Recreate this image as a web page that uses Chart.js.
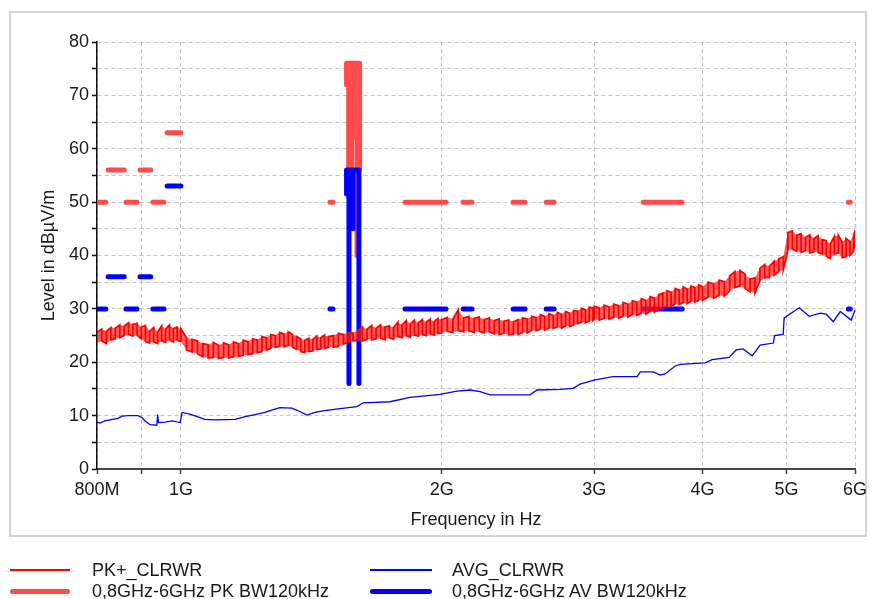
<!DOCTYPE html>
<html><head><meta charset="utf-8">
<script src="https://cdn.jsdelivr.net/npm/chart.js@4.4.0/dist/chart.umd.min.js"></script>
<style>
html,body{margin:0;padding:0;background:#fff;}
#wrap{position:relative;width:876px;height:599px;overflow:hidden;font-family:"Liberation Sans",Arial,sans-serif;}
#frame{position:absolute;left:9px;top:11px;width:858px;height:526px;box-sizing:border-box;border:2px solid #d4d4d4;}
#c{position:absolute;left:0;top:0;}
.lg{position:absolute;font-size:18px;color:#1a1a1a;line-height:20px;white-space:pre;}
.sw{position:absolute;}
</style></head><body>
<div id="wrap">
<div id="frame"></div>
<canvas id="c" width="876" height="599"></canvas>
<div class="sw" style="left:10px;top:569px;width:60px;height:1.5px;background:#ff0000"></div>
<div class="lg" style="left:92px;top:560px">PK+_CLRWR</div>
<div class="sw" style="left:10px;top:588.5px;width:60px;height:5px;border-radius:2.5px;background:#ff4a4a"></div>
<div class="lg" style="left:92px;top:581px">0,8GHz-6GHz PK BW120kHz</div>
<div class="sw" style="left:370px;top:569px;width:62px;height:1.5px;background:#0000ff"></div>
<div class="lg" style="left:452px;top:560px">AVG_CLRWR</div>
<div class="sw" style="left:370px;top:588.5px;width:62px;height:5px;border-radius:2.5px;background:#0000ff"></div>
<div class="lg" style="left:452px;top:581px">0,8GHz-6GHz AV BW120kHz</div>
</div>
<script>
// ---- axis ticks ----
const xTickValues = [800, 900, 1000, 2000, 3000, 4000, 5000, 6000];
const xTickLabels = ['800M', '', '1G', '2G', '3G', '4G', '5G', '6G'];

// ---- PK+_CLRWR trace: frequency (MHz), max and min level per column (dBµV/m) ----
const pkFreq = [800,810,820,830,840,850,860,870,880,890,900,910,920,930,940,950,960,970,980,990,
1000,1015,1030,1045,1060,1075,1090,1105,1120,1135,1150,1165,1180,1195,1210,1225,1240,1255,1270,1285,1300,1315,1330,1345,1360,1375,1390,1405,1420,1435,1450,1465,1480,
1500,1520,1540,1560,1580,1600,1620,1640,1660,1680,1700,1720,1740,1760,1780,1800,1820,1840,1860,1880,1900,1920,1940,1960,1980,
2000,2030,2060,2090,2120,2150,2180,2210,2240,2270,2300,2330,2360,2390,2420,2450,2480,2510,2540,2570,2600,2630,2660,2690,2720,2750,2780,2810,2840,2870,2900,2930,2960,2990,
3000,3040,3080,3120,3160,3200,3240,3280,3320,3360,3400,3440,3480,3520,3560,3600,3640,3680,3720,3760,3800,3840,3880,3920,3960,
4000,4060,4120,4180,4240,4300,4360,4420,4480,4540,4600,4660,4720,4780,4840,4900,4960,5020,5080,5140,5200,5260,5320,5380,5440,5500,5560,5620,5680,5740,5800,5860,5920,5980,6000];
const pkHigh = [25.6,26.2,25.8,26.5,26.4,27.0,26.8,27.4,27.1,27.3,26.6,26.9,25.8,26.5,25.7,26.8,26.2,27.0,26.3,26.6,
26.3,24.6,24.3,24.0,23.5,23.3,23.7,23.2,23.6,23.3,23.8,23.5,24.1,23.9,24.4,24.2,24.8,24.6,25.2,25.0,25.6,25.3,25.7,25.2,24.8,24.4,24.1,24.5,24.3,24.9,24.6,25.1,24.8,
25.0,25.4,25.2,25.6,25.5,26.0,26.6,26.2,26.9,26.4,27.0,26.6,26.8,26.5,27.5,27.0,27.8,27.2,27.9,27.4,28.0,27.5,28.1,27.6,28.2,
28.0,28.4,28.1,29.8,28.3,28.6,28.2,28.5,28.0,28.3,27.8,28.1,27.7,27.9,27.6,28.0,28.3,28.1,28.6,28.4,28.9,28.6,29.1,28.8,29.3,29.0,29.5,29.2,29.7,29.6,30.1,29.8,30.3,30.2,
30.5,30.2,30.7,30.4,30.9,30.6,31.2,30.9,31.5,31.3,31.9,31.6,32.3,32.0,32.7,33.0,33.4,33.1,33.8,33.5,34.1,33.7,34.3,34.0,34.5,
34.2,35.0,34.7,35.4,35.1,36.2,37.0,37.2,36.5,35.6,35.8,37.6,38.3,38.0,38.9,39.4,39.8,44.3,44.6,43.8,44.1,43.4,43.9,43.2,43.7,43.0,42.8,42.2,43.6,43.8,42.5,43.2,42.6,44.0,44.6];
const pkLow = [23.6,24.0,23.5,24.2,24.4,24.6,25.0,25.2,24.9,25.1,24.4,23.9,23.6,23.8,23.5,24.0,23.7,24.2,23.8,24.1,
23.9,22.3,21.9,21.6,21.0,20.8,20.9,20.7,20.9,20.8,21.0,21.1,21.3,21.4,21.6,21.8,22.0,22.3,22.6,22.8,23.0,22.9,23.1,22.8,22.4,22.0,21.8,22.0,22.1,22.4,22.5,22.6,22.8,
22.8,23.0,23.4,23.8,24.0,24.1,24.0,24.3,24.2,24.4,24.5,24.2,24.6,24.3,24.8,24.6,25.0,24.7,25.1,24.9,25.2,25.0,25.3,25.1,25.4,
25.5,25.8,25.6,25.9,25.7,25.9,25.6,25.8,25.5,25.7,25.3,25.2,25.4,25.1,25.3,25.2,25.6,25.5,26.0,25.9,26.2,26.0,26.4,26.3,26.6,26.4,26.8,26.7,27.0,27.2,27.5,27.4,27.7,27.8,
28.0,27.9,28.2,28.1,28.4,28.3,28.6,28.5,28.9,28.8,29.2,29.0,29.5,29.4,29.8,30.2,30.5,30.4,30.9,30.8,31.2,31.0,31.4,31.3,31.6,
31.6,32.2,32.0,32.5,32.4,33.4,34.0,34.3,33.8,33.2,33.0,35.2,35.8,35.9,36.3,37.0,37.4,41.0,41.2,40.8,40.6,40.9,40.5,40.7,40.6,40.3,39.8,39.4,40.3,40.5,39.6,39.8,40.0,40.8,41.5];

// ---- AVG_CLRWR trace ----
const avgFreq = [800,806,817,828,846,855,869,892,902,909,921,938,940,942,959,977,998,1003,1024,1044,1066,1095,1155,1186,1218,1250,1284,1301,1343,1362,1398,1428,1459,1526,1597,1623,1743,1838,1991,2083,2157,2215,2274,2399,2530,2577,2740,2836,2889,3007,3154,3363,3390,3509,3575,3622,3720,3770,4028,4104,4294,4375,4457,4565,4663,4830,4845,4957,4970,5173,5312,5470,5558,5663,5769,5940,6000];
const avgLevel = [8.8,8.6,9.0,9.2,9.5,9.9,10.0,10.0,9.6,9.0,8.3,8.2,10.2,8.7,8.8,9.0,8.7,10.6,10.3,9.8,9.3,9.2,9.3,9.8,10.2,10.6,11.2,11.5,11.4,11.0,10.1,10.6,10.9,11.3,11.7,12.4,12.6,13.4,14.0,14.6,14.8,14.5,13.9,13.9,13.9,14.8,14.9,15.1,15.9,16.7,17.3,17.3,18.2,18.2,17.6,17.8,19.3,19.6,19.9,20.5,20.9,22.3,22.5,21.2,23.2,23.6,25.0,25.2,28.3,30.2,28.6,29.2,29.0,27.6,29.5,27.9,29.8];

// ---- limit lines: [start MHz, end MHz, level] ----
const pkLimitSegments = [[800,819,50],[824,860,56],[864,890,50],[897,923,56],[928,956,50],[964,1000,63],
  [1486,1498,50],[1814,2023,50],[2117,2168,50],[2418,2496,50],[2640,2697,50],[3417,3790,50],[5894,5925,50]];
const avLimitSegments = [[800,819,30],[824,860,36],[864,890,30],[897,923,36],[928,956,30],[964,1000,53],
  [1486,1498,30],[1814,2023,30],[2117,2168,30],[2418,2496,30],[2640,2697,30],[3417,3790,30],[5894,5925,30]];
// notch polylines around the GNSS band: lists of [MHz, level]
const pkLimitNotch = [[[1553,76],[1608,76]],[[1553,76],[1553,72],[1562,72],[1562,51]],[[1574,76],[1574,56]],
  [[1586,76],[1586,62],[1597,62],[1597,40]],[[1608,76],[1608,56]]];
const avLimitNotch = [[[1553,56],[1605,56]],[[1553,56],[1553,51.5]],[[1563,56],[1563,16]],[[1580,56],[1580,45]],[[1605,56],[1605,16]]];

// ---- build datasets ----
function pkPath() {
  const out = [];
  for (let i = 0; i < pkFreq.length; i++) {
    if (i % 2 === 0) { out.push({x: pkFreq[i], y: pkLow[i]}, {x: pkFreq[i], y: pkHigh[i]}); }
    else { out.push({x: pkFreq[i], y: pkHigh[i]}, {x: pkFreq[i], y: pkLow[i]}); }
  }
  return out;
}
function segData(list) {
  const out = [];
  list.forEach(([a, b, l]) => { out.push({x: a, y: l}, {x: b, y: l}, {x: b, y: null}); });
  return out;
}
function polyData(list) {
  const out = [];
  list.forEach(p => { p.forEach(([f, v]) => out.push({x: f, y: v})); out.push({x: p[p.length - 1][0], y: null}); });
  return out;
}
const FONT = "'Liberation Sans', Arial, sans-serif";
const limStyle = (c) => ({borderColor: c, borderWidth: 5, borderCapStyle: 'round', borderJoinStyle: 'round', pointRadius: 0, spanGaps: false, fill: false});

new Chart(document.getElementById('c'), {
  type: 'line',
  data: {
    datasets: [
      {label: 'PK+_CLRWR', data: pkPath(), borderColor: '#ff0000', borderWidth: 1.7, pointRadius: 0, fill: false},
      {label: 'PK band top', data: pkFreq.map((f, i) => ({x: f, y: pkHigh[i]})), borderWidth: 0, borderColor: 'rgba(0,0,0,0)', pointRadius: 0,
        fill: '+1', backgroundColor: 'rgba(255,30,30,0.72)'},
      {label: 'PK band bottom', data: pkFreq.map((f, i) => ({x: f, y: pkLow[i]})), borderWidth: 0, borderColor: 'rgba(0,0,0,0)', pointRadius: 0, fill: false},
      {label: 'AVG_CLRWR', data: avgFreq.map((f, i) => ({x: f, y: avgLevel[i]})), borderColor: '#0000ff', borderWidth: 1.3, pointRadius: 0, fill: false},
      Object.assign({label: 'AV limit', data: segData(avLimitSegments)}, limStyle('#0000ff')),
      Object.assign({label: 'AV notch', data: polyData(avLimitNotch)}, limStyle('#0000ff')),
      Object.assign({label: 'PK limit', data: segData(pkLimitSegments)}, limStyle('#ff4a4a')),
      Object.assign({label: 'PK notch', data: polyData(pkLimitNotch)}, limStyle('#ff4a4a'))
    ]
  },
  options: {
    responsive: false, animation: false, devicePixelRatio: 1,
    layout: {padding: {left: 10, right: 21, top: 42, bottom: 64}},
    plugins: {legend: {display: false}, tooltip: {enabled: false}, filler: {propagate: false}},
    elements: {line: {tension: 0}, point: {radius: 0}},
    scales: {
      x: {
        type: 'logarithmic', min: 800, max: 6000, position: 'bottom',
        afterBuildTicks: (s) => { s.ticks = xTickValues.map(v => ({value: v})); },
        afterFit: (s) => { s.height = 66; },
        ticks: {autoSkip: false, maxRotation: 0, minRotation: 0, padding: 5, color: '#1a1a1a',
          font: {family: FONT, size: 18}, callback: (v, i) => xTickLabels[i]},
        grid: {color: '#c4c4c4', lineWidth: 1, tickLength: 5, tickColor: '#444', tickWidth: 1.5},
        border: {display: true, color: '#444', width: 2, dash: [4, 3]},
        title: {display: true, text: 'Frequency in Hz', color: '#1a1a1a', font: {family: FONT, size: 18}, padding: {top: 0, bottom: 4}}
      },
      y: {
        min: 0, max: 80,
        afterFit: (s) => { s.width = 87; },
        ticks: {stepSize: 5, padding: 3, color: '#1a1a1a', font: {family: FONT, size: 18},
          callback: (v) => (v % 10 === 0 ? String(v) : '')},
        grid: {color: '#c4c4c4', lineWidth: 1, tickLength: 5, tickColor: '#111', tickWidth: 1.5},
        border: {display: true, color: '#111', width: 1.5, dash: [4, 3]},
        title: {display: true, text: 'Level in dBµV/m', color: '#1a1a1a', font: {family: FONT, size: 18}, padding: {top: 28, bottom: 0}}
      }
    }
  }
});
</script>
</body></html>
